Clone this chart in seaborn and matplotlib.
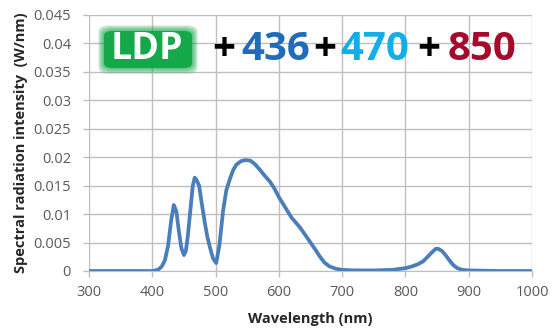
import matplotlib
matplotlib.use("Agg")
import matplotlib.pyplot as plt
import seaborn as sns
import pandas as pd
from matplotlib.patches import FancyBboxPatch

# spectrum (nm, W/nm)
wavelength = [300, 350, 400, 405, 410, 415, 420, 425, 430, 434, 438, 442, 446, 450, 453,
              456, 460, 464, 467, 470, 474, 478, 483, 487, 491, 496, 501, 506, 512, 517,
              523, 528, 533, 540, 547, 555, 562, 570, 578, 586, 593, 600, 610, 620, 633,
              642, 650, 658, 665, 672, 680, 690, 700, 720, 750, 780, 800, 810, 820, 828,
              835, 842, 848, 852, 858, 864, 870, 876, 882, 890, 900, 950, 1000]
intensity = [0.0, 0.0, 0.0, 0.0001, 0.0003, 0.0008, 0.0019, 0.0045, 0.0090, 0.0116,
             0.0105, 0.0070, 0.0040, 0.0028, 0.0035, 0.0060, 0.0105, 0.0150, 0.0164,
             0.0160, 0.0150, 0.0120, 0.0085, 0.0060, 0.0042, 0.0022, 0.0014, 0.0045,
             0.0107, 0.0142, 0.0163, 0.0178, 0.0187, 0.0193, 0.0195, 0.0194, 0.0188,
             0.0178, 0.0167, 0.0157, 0.0145, 0.0130, 0.0112, 0.0094, 0.0077, 0.0063,
             0.0050, 0.0037, 0.0025, 0.0015, 0.0008, 0.0004, 0.0002, 0.0001, 0.0001,
             0.0002, 0.0005, 0.0008, 0.0012, 0.0017, 0.0025, 0.0033, 0.0039, 0.0039,
             0.0035, 0.0027, 0.0018, 0.0010, 0.0005, 0.0002, 0.0001, 0.0, 0.0]

x_ticks = [300, 400, 500, 600, 700, 800, 900, 1000]
y_ticks = [0, 0.005, 0.01, 0.015, 0.02, 0.025, 0.03, 0.035, 0.04, 0.045]
y_tick_labels = ["0", "0.005", "0.01", "0.015", "0.02", "0.025", "0.03", "0.035", "0.04", "0.045"]

title_parts = ["+", "436", "+", "470", "+", "850"]
title_colors = ["black", "#1F6DBA", "black", "#12AEEA", "black", "#A50A2A"]
title_x = [224, 276, 325, 375, 429, 482]  # centres in pixels

df = pd.DataFrame({"wl": wavelength, "val": intensity})

sns.set_style("white")
plt.rcParams["font.family"] = ["Open Sans", "DejaVu Sans"]

fig = plt.figure(figsize=(5.52, 3.28), dpi=100)
W, H = 552, 328
ax = fig.add_axes([89 / W, 1 - 271 / H, (532 - 89) / W, (271 - 15) / H])

sns.lineplot(data=df, x="wl", y="val", color="#4A7EBB", linewidth=2.7, ax=ax)

ax.set_xlim(300, 1000)
ax.set_ylim(0, 0.045)
ax.set_xticks(x_ticks)
ax.set_yticks(y_ticks)
ax.set_yticklabels(y_tick_labels)
ax.tick_params(labelsize=10.5, labelcolor="#595959", color="#BFBFBF", length=4,
               width=1, bottom=True, left=True)
ax.tick_params(axis="x", pad=6)
ax.tick_params(axis="y", pad=9)
ax.grid(True, color="#BFBFBF", linewidth=1)
for s in ["top", "right", "left"]:
    ax.spines[s].set_visible(False)
ax.spines["bottom"].set_color("#BFBFBF")

ax.set_xlabel("Wavelength (nm)", fontsize=10.5, fontweight="bold", color="#262626",
              va="center")
ax.set_ylabel("Spectral radiation intensity  (W/nm)", fontsize=10.5, fontweight="bold",
              color="#262626", va="center")
ax.xaxis.set_label_coords(0.5, (271 - 319) / 256)
ax.yaxis.set_label_coords((21 - 89) / 443, 0.5)

# LDP badge with a soft glow
bx, by, bw, bh = 104, 31, 88, 37
for pad in range(12, 0, -1):
    fig.patches.append(FancyBboxPatch(((bx - pad / 2) / W, 1 - (by + bh + pad / 2) / H),
                                      (bw + pad) / W, (bh + pad) / H,
                                      boxstyle="round,pad=0,rounding_size=0.02",
                                      transform=fig.transFigure, facecolor="#1DAA4F",
                                      edgecolor="none", alpha=0.09))
fig.patches.append(FancyBboxPatch((bx / W, 1 - (by + bh) / H), bw / W, bh / H,
                                  boxstyle="round,pad=0,rounding_size=0.015",
                                  transform=fig.transFigure, facecolor="#14A84A",
                                  edgecolor="none"))
fig.text(147 / W, 1 - 49 / H, "LDP", fontsize=27, fontweight="bold", color="white",
         ha="center", va="center")

for txt, col, px in zip(title_parts, title_colors, title_x):
    fig.text(px / W, 1 - 50 / H, txt, fontsize=29, fontweight="bold", color=col,
             ha="center", va="center")

fig.savefig("out.png", dpi=100)
